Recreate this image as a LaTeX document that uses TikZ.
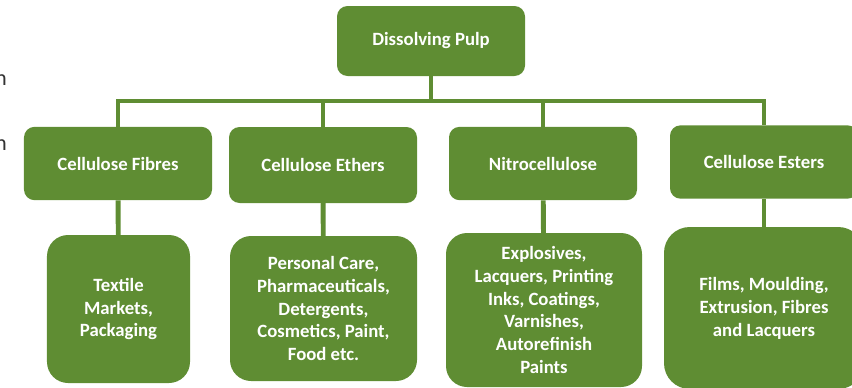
\documentclass[tikz,border=0pt]{standalone}
\usepackage{fontspec}
\setmainfont{Carlito}
\usepackage{tikz}
\usetikzlibrary{arrows.meta}
\definecolor{leaf}{RGB}{95,141,51}

\begin{document}
\begin{tikzpicture}[x=0.03cm,y=-0.03cm,
  box/.style={draw=none,fill=leaf,text=white,align=center,inner sep=2pt,
    font=\fontsize{16}{19.6}\selectfont\bfseries,rounded corners=9},
  top/.style={box,minimum width=5.64cm,minimum height=2.1cm},
  kind/.style={box,minimum width=5.64cm,minimum height=2.2cm},
  use/.style={box,rounded corners=18},
  link/.style={draw=leaf,line width=4.2pt}]
\useasboundingbox (0,0) rectangle (852,387);
\clip (0,0) rectangle (852,387);
% cropped letters at the left edge
\node[anchor=east,text=black!80,inner sep=0pt,font=\fontsize{19}{22}\selectfont] (n1) at (7,80) {n};
\node[anchor=east,text=black!80,inner sep=0pt,font=\fontsize{19}{22}\selectfont] (n2) at (7,145) {n};
\coordinate (bus) at (0,101);
\node[top]  (pulp)   at (431,41)    {Dissolving Pulp};
\node[kind] (fibres) at (118,163.5) {Cellulose Fibres};
\node[kind,minimum height=2.28cm] (ethers) at (323,165) {Cellulose Ethers};
\node[kind] (nitro)  at (543,163.5) {Nitrocellulose};
\node[kind] (esters) at (764,162)   {Cellulose Esters};
\node[use,minimum width=4.29cm,minimum height=4.44cm] (textile) at (118.5,309) {Textile\\Markets,\\Packaging};
\node[use,minimum width=5.61cm,minimum height=4.35cm] (care) at (323.5,308.5)
  {Personal Care,\\Pharmaceuticals,\\Detergents,\\Cosmetics, Paint,\\Food etc.};
\node[use,minimum width=5.88cm,minimum height=4.62cm] (blast) at (544,310)
  {Explosives,\\Lacquers, Printing\\Inks, Coatings,\\Varnishes,\\Autorefinish\\Paints};
\node[use,rounded corners=22,minimum width=6.0cm,minimum height=4.86cm] (films) at (764,308)
  {Films, Moulding,\\Extrusion, Fibres\\and Lacquers};
\foreach \k in {fibres,ethers,nitro,esters}
  \draw[link] (pulp.south) -- (pulp.south |- bus) -| (\k.north);
\draw[link] (fibres) -- (textile);
\draw[link] (ethers) -- (care);
\draw[link] (nitro) -- (blast);
\draw[link] (esters) -- (films);
\end{tikzpicture}
\end{document}
